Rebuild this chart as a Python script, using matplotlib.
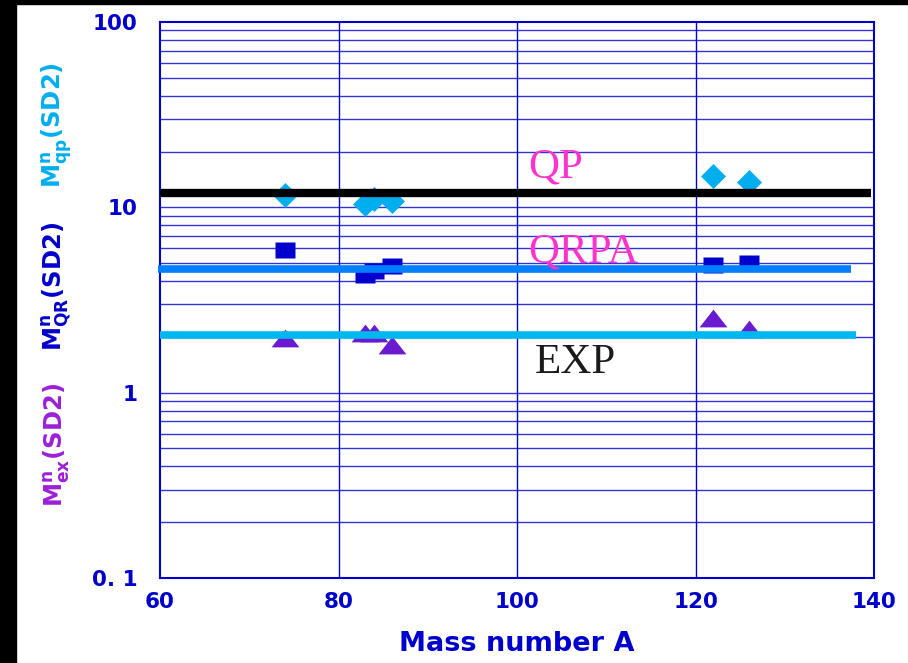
import matplotlib
matplotlib.use("Agg")
import matplotlib.pyplot as plt
from matplotlib.patches import Rectangle

plt.rcParams['mathtext.default'] = 'regular'

# Mass numbers and matrix elements (SD2)
mass_qp = [74, 83, 84, 86, 122, 126]
m_qp = [11.7, 10.4, 11.1, 10.8, 14.7, 13.7]

mass_qr = [74, 83, 84, 86, 122, 126]
m_qr = [5.85, 4.3, 4.55, 4.8, 4.9, 5.0]

mass_ex = [74, 83, 84, 86, 122, 126]
m_ex = [1.97, 2.09, 2.09, 1.81, 2.52, 2.2]

# Reference levels drawn as horizontal bands
level_qp = 12.0
level_qrpa = 4.66
level_exp = 2.05

x_ticks = [60, 80, 100, 120, 140]
y_ticks = [0.1, 1, 10, 100]
y_tick_labels = ["0. 1", "1", "10", "100"]

sans = "DejaVu Sans"
BLUE = "#0000CC"

fig = plt.figure(figsize=(9.08, 6.63), dpi=100)
fig.patch.set_facecolor("white")
# dark frame strips along the left and top edges
fig.add_artist(Rectangle((0, 0), 16 / 908, 1, transform=fig.transFigure,
                         color="black", zorder=0))
fig.add_artist(Rectangle((0, 1 - 4 / 663), 1, 4 / 663, transform=fig.transFigure,
                         color="black", zorder=0))

ax = fig.add_axes([160 / 908, 85 / 663, 714 / 908, 556 / 663])
ax.set_yscale("log")
ax.set_xlim(60, 140)
ax.set_ylim(0.1, 100)

# grid: every minor decade step horizontally, every 20 in A vertically
for dec in [0.1, 1, 10]:
    for k in range(1, 10):
        ax.axhline(dec * k, color=BLUE, lw=1.0, alpha=0.8, zorder=1)
for xv in x_ticks[1:-1]:
    ax.axvline(xv, color=BLUE, lw=1.0, zorder=1)

for sp in ax.spines.values():
    sp.set_color(BLUE)
    sp.set_linewidth(1.5)

diamond = [(0, 1), (1, 0), (0, -1), (-1, 0)]
rect = [(-1, -0.76), (1, -0.76), (1, 0.76), (-1, 0.76)]
tri = [(-1, -0.64), (1, -0.64), (0, 0.64)]

ax.plot(mass_qp, m_qp, ls="none", marker=diamond, ms=18, color="#00AEEF",
        mec="none", zorder=3)
ax.plot(mass_qr, m_qr, ls="none", marker=rect, ms=15, color=BLUE,
        mec="none", zorder=3)
ax.plot(mass_ex, m_ex, ls="none", marker=tri, ms=20, color="#6A1BD0",
        mec="none", zorder=3)

ax.plot([60, 139.7], [level_qp, level_qp], color="black", lw=6,
        solid_capstyle="butt", zorder=4, clip_on=False)
ax.plot([59.8, 137.4], [level_qrpa, level_qrpa], color="#0080FF", lw=5.5,
        solid_capstyle="butt", zorder=4, clip_on=False)
ax.plot([60, 138.0], [level_exp, level_exp], color="#00B8F0", lw=5.5,
        solid_capstyle="butt", zorder=4, clip_on=False)

serif = ["Liberation Serif", "DejaVu Serif"]
ax.text(101.3, 14.4, "QP", color="#FF33CC", fontsize=31, family=serif,
        va="baseline", ha="left", zorder=5)
ax.text(101.3, 5.02, "QRPA", color="#FF33CC", fontsize=31, family=serif,
        va="baseline", ha="left", zorder=5)
ax.text(102.0, 1.28, "EXP", color="#1A1A1A", fontsize=31, family=serif,
        va="baseline", ha="left", zorder=5)

ax.set_xticks(x_ticks)
ax.set_xticklabels([str(v) for v in x_ticks])
ax.set_yticks(y_ticks)
ax.set_yticklabels(y_tick_labels)
ax.minorticks_off()
ax.tick_params(length=0, colors=BLUE, labelsize=15.5)
ax.tick_params(axis="x", pad=10)
ax.tick_params(axis="y", pad=16)
for lab in ax.get_xticklabels() + ax.get_yticklabels():
    lab.set_fontweight("bold")
    lab.set_family(sans)

ax.set_xlabel("Mass number A", color=BLUE, fontsize=19.5, fontweight="bold",
              family=sans, labelpad=14)

ylabels = [("M$^{n}_{qp}$(SD2)", "#00AEEF", 125),
           ("M$^{n}_{QR}$(SD2)", BLUE, 286),
           ("M$^{n}_{ex}$(SD2)", "#9B1FD8", 445)]
for txt, col, ypx in ylabels:
    fig.text(57 / 908, 1 - ypx / 663, txt, rotation=90, color=col,
             fontsize=17.5, fontweight="bold", family=sans,
             ha="center", va="center")

fig.savefig("out.png", dpi=100)
